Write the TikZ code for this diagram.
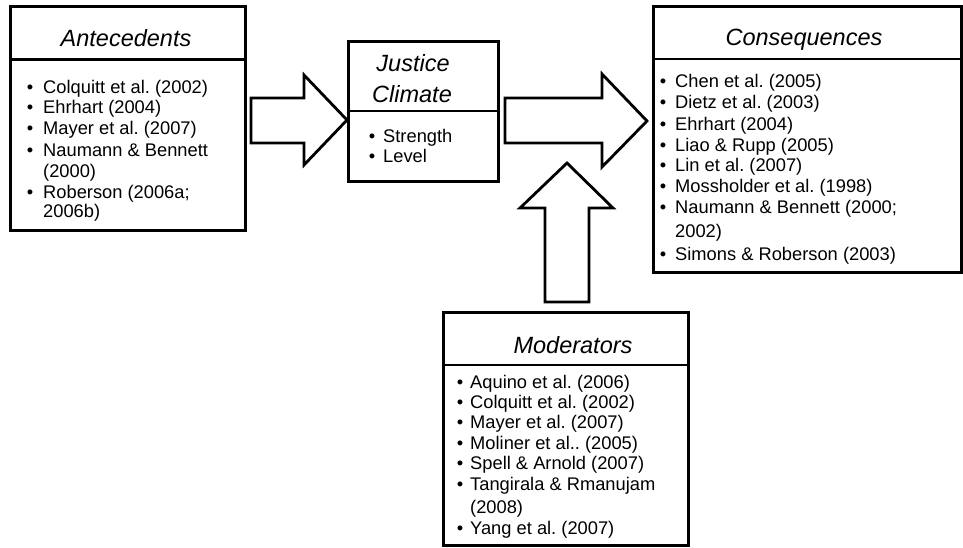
\documentclass[tikz,border=0pt]{standalone}
\usepackage{fontspec}
\setmainfont{Liberation Sans}
\frenchspacing
\tikzset{
  boxline/.style={draw=black, line width=3pt, line join=miter},
  divline/.style={draw=black, line width=2.6pt},
  blockarrow/.style={draw=black, line width=2.8pt, line join=miter, fill=white},
  titletext/.style={inner sep=0pt, font=\itshape\fontsize{23.5}{28}\selectfont},
  itemtext/.style={inner sep=0pt, font=\fontsize{18.3}{21}\selectfont},
}
\begin{document}
\begin{tikzpicture}[x=1pt,y=-1pt]
\useasboundingbox (0,0) rectangle (963,548);

% ---- boxes ----
\draw[boxline] (10,7) rectangle (245,230);
\coordinate (antbox) at (10,7);
\draw[divline] (10,59.5) -- (245,59.5);

\draw[boxline] (348,42) rectangle (498,182);
\coordinate (jcbox) at (348,42);
\draw[divline] (348,111) -- (498,111);

\draw[boxline] (653,7) rectangle (961,272);
\coordinate (conbox) at (653,7);
\draw[divline] (653,59) -- (961,59);

\draw[boxline] (443,312) rectangle (688,545);
\coordinate (modbox) at (443,312);
\draw[divline] (443,365) -- (688,365);

% ---- block arrows ----
\draw[blockarrow] (251,98) -- (304,98) -- (304,75) -- (347,120) -- (304,165) -- (304,143) -- (251,143) -- cycle;
\draw[blockarrow] (505,98) -- (602,98) -- (602,74) -- (647,121) -- (602,167) -- (602,143) -- (505,143) -- cycle;
\draw[blockarrow] (545,302) -- (545,208) -- (520,208) -- (567,163) -- (613,208) -- (589,208) -- (589,302) -- cycle;

% ---- titles ----
\node[titletext, anchor=base] (anttitle) at (126,47) {Antecedents};
\node[titletext, anchor=base] (jctitle1) at (413,72) {Justice};
\node[titletext, anchor=base] (jctitle2) at (412,103) {Climate};
\node[titletext, anchor=base] (contitle) at (804,46) {Consequences};
\node[titletext, anchor=base] (modtitle) at (573,353) {Moderators};

% ---- Antecedents list ----
\foreach \yy/\lab/\bl [count=\i] in {
  94/{Colquitt et al. (2002)}/1,
  114/{Ehrhart (2004)}/1,
  135/{Mayer et al. (2007)}/1,
  157/{Naumann \& Bennett}/1,
  178/{(2000)}/0,
  198/{Roberson (2006a;}/1,
  218/{2006b)}/0} {
  \node[itemtext, anchor=base west] (ant-t\i) at (43,\yy) {\lab};
  \ifnum\bl=1 \node[itemtext, anchor=base] (ant-b\i) at (30,\yy) {\textbullet};\fi
}

% ---- Justice Climate list ----
\foreach \yy/\lab [count=\i] in {143/{Strength}, 163/{Level}} {
  \node[itemtext, anchor=base west] (jc-t\i) at (383,\yy) {\lab};
  \node[itemtext, anchor=base] (jc-b\i) at (372,\yy) {\textbullet};
}

% ---- Consequences list ----
\foreach \yy/\lab/\bl [count=\i] in {
  88/{Chen et al. (2005)}/1,
  109/{Dietz et al. (2003)}/1,
  130.5/{Ehrhart (2004)}/1,
  151.5/{Liao \& Rupp (2005)}/1,
  172/{Lin et al. (2007)}/1,
  193/{Mossholder et al. (1998)}/1,
  214/{Naumann \& Bennett (2000;}/1,
  237/{2002)}/0,
  260/{Simons \& Roberson (2003)}/1} {
  \node[itemtext, anchor=base west] (con-t\i) at (675,\yy) {\lab};
  \ifnum\bl=1 \node[itemtext, anchor=base] (con-b\i) at (663,\yy) {\textbullet};\fi
}

% ---- Moderators list ----
\foreach \yy/\lab/\bl [count=\i] in {
  388.5/{Aquino et al. (2006)}/1,
  408.5/{Colquitt et al. (2002)}/1,
  428.5/{Mayer et al. (2007)}/1,
  449.5/{Moliner et al.. (2005)}/1,
  469.5/{Spell \& Arnold (2007)}/1,
  490.5/{Tangirala \& Rmanujam}/1,
  513.5/{(2008)}/0,
  534.5/{Yang et al. (2007)}/1} {
  \node[itemtext, anchor=base west] (mod-t\i) at (470,\yy) {\lab};
  \ifnum\bl=1 \node[itemtext, anchor=base] (mod-b\i) at (460,\yy) {\textbullet};\fi
}
\end{tikzpicture}
\end{document}
